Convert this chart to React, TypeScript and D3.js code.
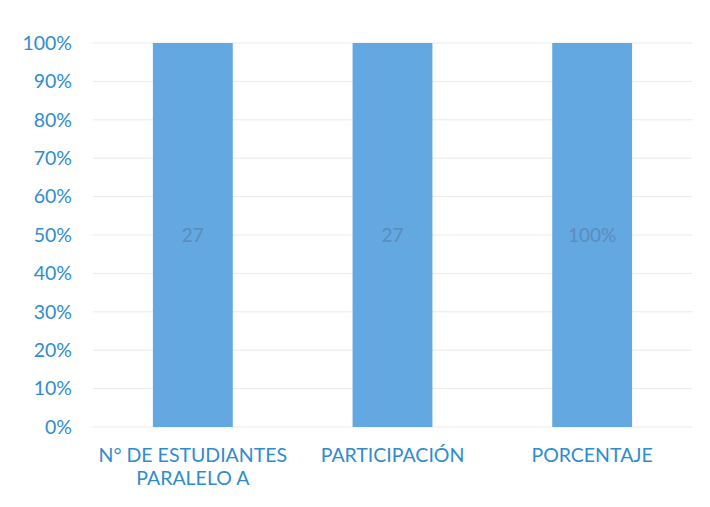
import React from "react";
import * as d3 from "d3";

const categories: string[][] = [["N° DE ESTUDIANTES", "PARALELO A"], ["PARTICIPACIÓN"], ["PORCENTAJE"]];
const values: number[] = [1, 1, 1];
const dataLabels: string[] = ["27", "27", "100%"];
const yTicks: number[] = [0, 0.1, 0.2, 0.3, 0.4, 0.5, 0.6, 0.7, 0.8, 0.9, 1];

export default function App() {
  const W = 710, H = 507;
  const left = 93, right = 692, top = 43, bottom = 427;
  const x = d3.scaleBand<number>().domain(d3.range(categories.length)).range([left, right]).paddingInner(0.6).paddingOuter(0.3);
  const y = d3.scaleLinear().domain([0, 1]).range([bottom, top]);
  const fmt = d3.format(".0%");
  const textBlue = "#2f8ccc";
  const font = "Lato, 'Open Sans', sans-serif";
  return (
    <svg width={W} height={H} style={{ position: "absolute", left: 0, top: 0, background: "#fff" }}>
      <rect x={0} y={0} width={W} height={H} fill="#fff" />
      {yTicks.map((t) => (
        <g key={t}>
          <line x1={left} x2={right} y1={y(t)} y2={y(t)} stroke="#e9e9e9" strokeWidth={1} />
          <text x={72} y={y(t)} dy="0.35em" textAnchor="end" fill={textBlue} fontSize={19.5} fontFamily={font}>{fmt(t)}</text>
        </g>
      ))}
      {values.map((v, i) => {
        const bx = x(i)!;
        const bw = x.bandwidth();
        return (
          <g key={i}>
            <rect x={bx} y={y(v)} width={bw} height={y(0) - y(v)} fill="#64a8e2" />
            <text x={bx + bw / 2} y={y(v / 2)} dy="0.35em" textAnchor="middle" fill="#5a8cbc" fontSize={19} fontFamily={font}>{dataLabels[i]}</text>
            {categories[i].map((line, j) => (
              <text key={j} x={bx + bw / 2} y={455 + j * 23} dy="0.35em" textAnchor="middle" fill={textBlue} fontSize={19.5} fontFamily={font}>{line}</text>
            ))}
          </g>
        );
      })}
    </svg>
  );
}
